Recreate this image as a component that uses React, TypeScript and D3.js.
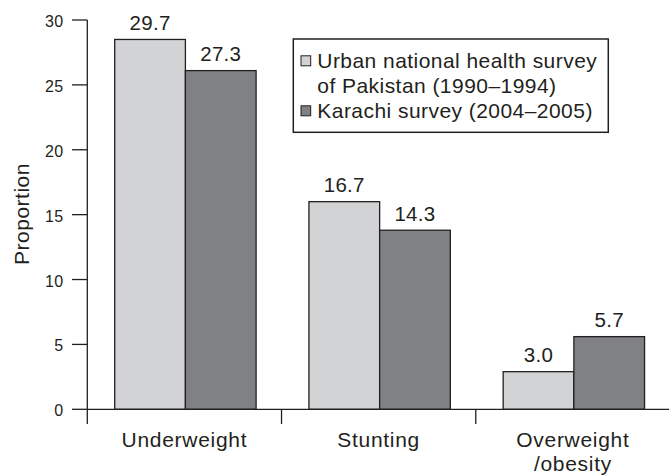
import React from "react";
import * as d3 from "d3";

const categories = ["Underweight", "Stunting", "Overweight\n/obesity"];
const seriesNames = [
  "Urban national health survey\nof Pakistan (1990–1994)",
  "Karachi survey (2004–2005)",
];
// bar heights as drawn
const urbanValues = [28.5, 16.0, 2.9];
const karachiValues = [26.1, 13.8, 5.6];
// printed labels
const urbanLabels = ["29.7", "16.7", "3.0"];
const karachiLabels = ["27.3", "14.3", "5.7"];
const yTicks = [0, 5, 10, 15, 20, 25, 30];

const W = 669;
const H = 475;
const ink = "#231f20";
const colors = ["#d2d3d5", "#808185"];
const font = "'Liberation Sans', Arial, Helvetica, sans-serif";

export default function App() {
  const y = d3.scaleLinear().domain([0, 30]).range([409.3, 20]);
  const x0 = d3.scaleBand<string>().domain(categories).range([87.3, 670]).padding(0);
  const bw = x0.bandwidth();
  const x1 = d3
    .scaleBand<number>()
    .domain([0, 1])
    .range([27.4, 27.4 + 141.4])
    .padding(0);
  const values = [urbanValues, karachiValues];
  const labels = [urbanLabels, karachiLabels];

  return (
    <svg
      width={W}
      height={H}
      style={{ position: "absolute", left: 0, top: 0, background: "#fff" }}
      fontFamily={font}
    >
      {/* bars */}
      {categories.map((c, i) =>
        [0, 1].map((s) => {
          const v = values[s][i];
          const bx = (x0(c) as number) + (x1(s) as number);
          return (
            <g key={c + s}>
              <rect
                x={bx}
                y={y(v)}
                width={x1.bandwidth()}
                height={y(0) - y(v)}
                fill={colors[s]}
                stroke={ink}
                strokeWidth={1.3}
              />
              <text
                x={bx + x1.bandwidth() / 2}
                y={y(v) - 9.3}
                textAnchor="middle"
                fontSize={20.5}
                letterSpacing={0.3}
                fill={ink}
              >
                {labels[s][i]}
              </text>
            </g>
          );
        })
      )}
      {/* y axis */}
      <line x1={87.3} x2={87.3} y1={y(30)} y2={y(0)} stroke={ink} strokeWidth={1.3} />
      {yTicks.map((t) => (
        <g key={t}>
          <line x1={72} x2={87.3} y1={y(t)} y2={y(t)} stroke={ink} strokeWidth={1.3} />
          <text
            x={63.5}
            y={y(t) + 7}
            textAnchor="end"
            fontSize={16}
            letterSpacing={0.3}
            fill={ink}
          >
            {t}
          </text>
        </g>
      ))}
      <text
        transform={`translate(29.3, 214) rotate(-90)`}
        textAnchor="middle"
        fontSize={21}
        letterSpacing={0.5}
        fill={ink}
      >
        Proportion
      </text>
      {/* x axis */}
      <line x1={87.3} x2={W} y1={y(0)} y2={y(0)} stroke={ink} strokeWidth={1.3} />
      {categories.map((c) => (
        <g key={c}>
          <line
            x1={x0(c) as number}
            x2={x0(c) as number}
            y1={y(0)}
            y2={424}
            stroke={ink}
            strokeWidth={1.3}
          />
          <text
            x={(x0(c) as number) + bw / 2}
            y={447.3}
            textAnchor="middle"
            fontSize={21}
            letterSpacing={0.7}
            fill={ink}
          >
            {c.split("\n").map((ln, k) => (
              <tspan key={k} x={(x0(c) as number) + bw / 2} dy={k === 0 ? 0 : 24}>
                {ln}
              </tspan>
            ))}
          </text>
        </g>
      ))}
      {/* legend */}
      <rect
        x={293.3}
        y={39}
        width={315}
        height={93.3}
        fill="#fff"
        stroke={ink}
        strokeWidth={1.5}
      />
      {seriesNames.map((name, s) => {
        const baseY = s === 0 ? 68.3 : 118.3;
        return (
          <g key={name}>
            <rect
              x={301}
              y={baseY - 12.5}
              width={9.7}
              height={10}
              fill={colors[s]}
              stroke={ink}
              strokeWidth={1}
            />
            <text x={317.3} y={baseY} fontSize={21} letterSpacing={0.45} fill={ink}>
              {name.split("\n").map((ln, k) => (
                <tspan key={k} x={317.3} dy={k === 0 ? 0 : 25}>
                  {ln}
                </tspan>
              ))}
            </text>
          </g>
        );
      })}
    </svg>
  );
}
